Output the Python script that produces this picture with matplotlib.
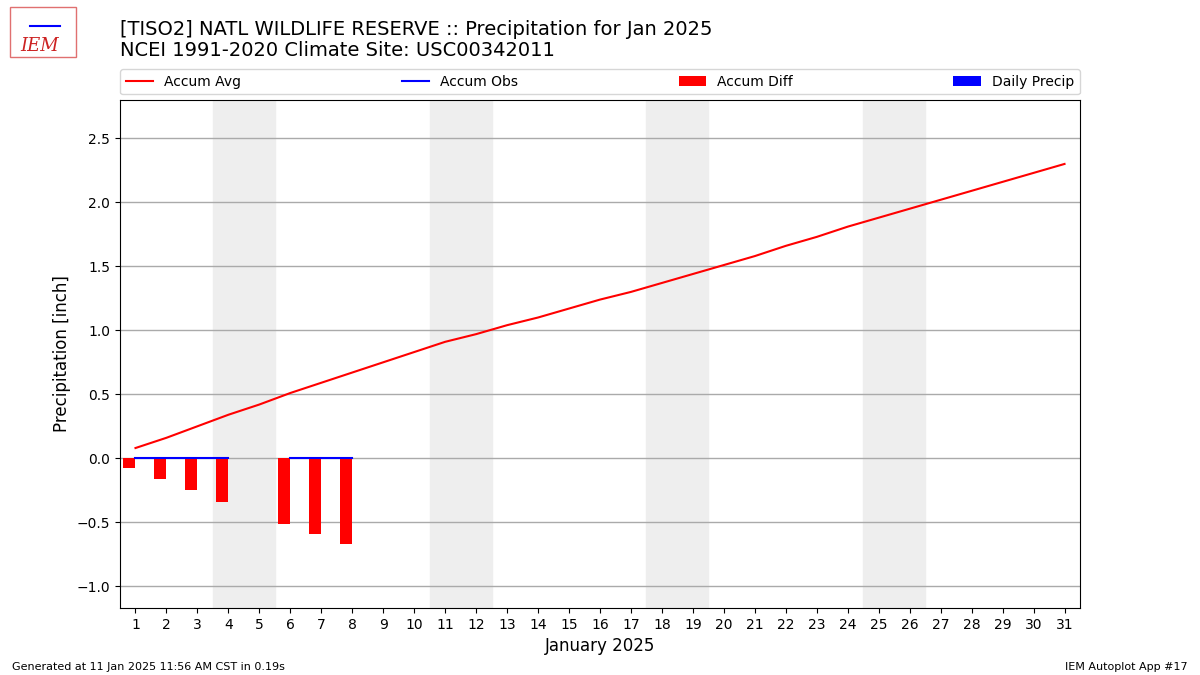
import numpy as np
import matplotlib.pyplot as plt

days = list(range(1, 32))
accum_avg = [0.08, 0.16, 0.25, 0.34, 0.42, 0.51, 0.59, 0.67, 0.75, 0.83,
             0.91, 0.97, 1.04, 1.10, 1.17, 1.24, 1.30, 1.37, 1.44, 1.51,
             1.58, 1.66, 1.73, 1.81, 1.88, 1.95, 2.02, 2.09, 2.16, 2.23, 2.30]
obs_days = [1, 2, 3, 4, 5, 6, 7, 8]
accum_obs = [0.0, 0.0, 0.0, 0.0, np.nan, 0.0, 0.0, 0.0]
diff_days = [1, 2, 3, 4, 6, 7, 8]
accum_diff = [-0.08, -0.16, -0.25, -0.34, -0.51, -0.59, -0.67]
daily_precip = [0.0, 0.0, 0.0, 0.0, 0.0, 0.0, 0.0]
weekends = [4, 11, 18, 25]

fig = plt.figure(figsize=(12, 6.75), dpi=100)
ax = fig.add_axes([0.1, 0.0993, 0.8, 0.7526])

for w in weekends:
    ax.axvspan(w - 0.5, w + 1.5, color="#eeeeee", zorder=0)

ax.plot(days, accum_avg, color="red", lw=1.5, label="Accum Avg", zorder=3)
ax.plot(obs_days, accum_obs, color="blue", lw=1.5, label="Accum Obs", zorder=4)
ax.bar(diff_days, accum_diff, width=-0.4, align="edge", color="red",
       label="Accum Diff", zorder=2)
ax.bar(diff_days, daily_precip, width=0.4, align="edge", color="blue",
       label="Daily Precip", zorder=2)

ax.set_xlim(0.5, 31.5)
ax.set_ylim(-1.17, 2.8)
ax.set_xticks(days)
ax.set_yticks([-1.0, -0.5, 0.0, 0.5, 1.0, 1.5, 2.0, 2.5])
ax.yaxis.grid(True, color="#aaaaaa", lw=1)
ax.set_axisbelow(True)
ax.set_xlabel("January 2025", fontsize=12)
ax.set_ylabel("Precipitation [inch]", fontsize=12)

ax.legend(loc="lower left", bbox_to_anchor=(0, 1.011, 1, 0.1), ncol=4,
          mode="expand", borderaxespad=0, fontsize=10)

fig.text(0.1, 0.97, "[TISO2] NATL WILDLIFE RESERVE :: Precipitation for Jan 2025\n"
         "NCEI 1991-2020 Climate Site: USC00342011", fontsize=14, va="top",
         linespacing=1.15)

# logo
fig.text(0.017, 0.925, "IEM", color="#cc2222", fontsize=13, family="DejaVu Serif",
         style="italic")
fig.patches.append(plt.Rectangle((0.008, 0.915), 0.055, 0.075, fill=False,
                                 edgecolor="#e07070", lw=1, transform=fig.transFigure))
fig.lines.append(plt.Line2D([0.025, 0.05], [0.962, 0.962], color="blue", lw=1.5,
                            transform=fig.transFigure))

fig.text(0.01, 0.007, "Generated at 11 Jan 2025 11:56 AM CST in 0.19s", fontsize=8)
fig.text(0.99, 0.007, "IEM Autoplot App #17", fontsize=8, ha="right")

fig.savefig("out.png", dpi=100)
